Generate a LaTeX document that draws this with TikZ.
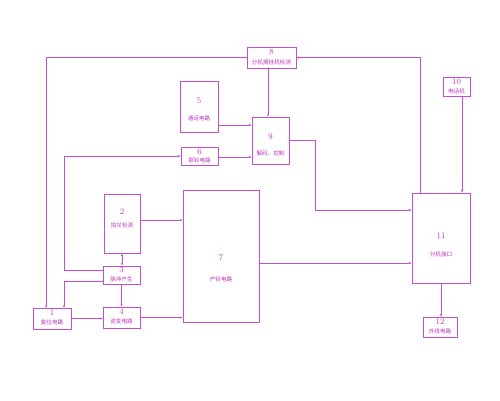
\documentclass[tikz,border=0pt]{standalone}
\usepackage{fontspec}
\newfontfamily\cjk{Noto Sans CJK SC}
\usetikzlibrary{arrows.meta,calc}
\definecolor{ln}{RGB}{196,80,206}
\definecolor{tx}{RGB}{190,50,190}
\tikzset{
  box/.style={draw=ln, line width=0.8pt, inner sep=0pt},
  num/.style={text=tx, font=\fontsize{8.5}{8.5}\selectfont, inner sep=0pt},
  lab/.style={text=tx, font=\cjk\fontsize{5.6}{5.6}\selectfont, inner sep=0pt},
  arr/.style={draw=ln, line width=0.7pt, -{Stealth[length=3pt,width=2.2pt]}},
  darr/.style={draw=ln, line width=0.7pt, {Stealth[length=3pt,width=2.2pt]}-{Stealth[length=3pt,width=2.2pt]}},
}
\begin{document}
\begin{tikzpicture}[x=1pt,y=-1pt]
\useasboundingbox (0,0) rectangle (500,400);
% boxes
\node[box, minimum width=49pt, minimum height=21pt] (n8) at (271.5,57.5) {};
\node[box, minimum width=38pt, minimum height=51pt] (n5) at (199,106.5) {};
\node[box, minimum width=37pt, minimum height=18pt] (n6) at (199.5,156) {};
\node[box, minimum width=37pt, minimum height=47pt] (n9) at (270.5,140.5) {};
\node[box, minimum width=36pt, minimum height=59pt] (n2) at (122,223.5) {};
\node[box, minimum width=37pt, minimum height=18pt] (n3) at (121.5,275) {};
\node[box, minimum width=37pt, minimum height=21pt] (n4) at (121.5,317.5) {};
\node[box, minimum width=38pt, minimum height=21pt] (n1) at (52,318.5) {};
\node[box, minimum width=76pt, minimum height=132pt] (n7) at (221,256) {};
\node[box, minimum width=58pt, minimum height=90pt] (n11) at (441,238) {};
\node[box, minimum width=27pt, minimum height=19pt] (n10) at (456.5,86.5) {};
\node[box, minimum width=34pt, minimum height=20pt] (n12) at (440,327) {};
% texts
\node[num] (t8) at (271.5,51.5) {8};
\node[lab] (l8) at (271.5,62.5) {分机摘挂机检测};
\node[num] (t5) at (199,101) {5};
\node[lab] (l5) at (199,118.5) {通话电路};
\node[num] (t6) at (199.5,151.5) {6};
\node[lab] (l6) at (199.5,160.5) {振铃电路};
\node[num] (t9) at (270.5,137) {9};
\node[lab] (l9) at (270.5,153) {解码、控制};
\node[num] (t2) at (122,211.5) {2};
\node[lab] (l2) at (122,225) {拍叉检测};
\node[num] (t3) at (121.5,270) {3};
\node[lab] (l3) at (121.5,279) {脉冲产生};
\node[num] (t4) at (121.5,312) {4};
\node[lab] (l4) at (121.5,321.5) {逆变电路};
\node[num] (t1) at (52,313) {1};
\node[lab] (l1) at (52,322.5) {复位电路};
\node[num] (t7) at (221,258) {7};
\node[lab] (l7) at (221,279) {产铃电路};
\node[num] (t11) at (441,236) {11};
\node[lab] (l11) at (441,254) {分机接口};
\node[num] (t10) at (456.5,82) {10};
\node[lab] (l10) at (456.5,91.5) {电话机};
\node[num] (t12) at (440,322) {12};
\node[lab] (l12) at (440,331.5) {外线电路};
% helper coordinates
\coordinate (k0) at (46,308);
\coordinate (k1) at (64,156);
\coordinate (k2) at (64,308);
\coordinate (k3) at (315,210);
% connectors
\draw[arr] (n8.west) -| (k0);
\draw[arr] ([yshift=5pt]n3.west) -| (k1) -- (n6.west);
\draw[arr] ([yshift=-6pt]n3.west) -| (k2);
\draw[arr] (n1.east) -- (n1.east -| n4.west);
\draw[darr] (n2.south) -- (n2.south |- n3.north);
\draw[arr] (n3.south) -- (n3.south |- n4.north);
\draw[arr] ([yshift=3.5pt]n2.east) -- ([yshift=3.5pt]n2.east -| n7.west);
\draw[arr] (n4.east) -- (n4.east -| n7.west);
\draw[arr] ([yshift=-7pt]n7.east) -- ([yshift=-7pt]n7.east -| n11.west);
\draw[arr] (n9.east) -| (k3) -- (k3 -| n11.west);
\draw[arr] ([xshift=-21pt]n11.north) |- (n8.east);
\draw[arr] ([xshift=5.5pt]n10.south) -- ([xshift=5.5pt]n10.south |- n11.north);
\draw[arr] (n11.south) -- (n11.south |- n12.north);
\draw[arr] ([xshift=-3.5pt]n8.south) -- ([xshift=-3.5pt]n8.south |- n9.north);
\draw[arr] ([yshift=-18.5pt]n5.east) -- ([yshift=-18.5pt]n5.east -| n9.west);
\draw[arr] ([yshift=-1pt]n6.east) -- ([yshift=-1pt]n6.east -| n9.west);
\end{tikzpicture}
\end{document}
